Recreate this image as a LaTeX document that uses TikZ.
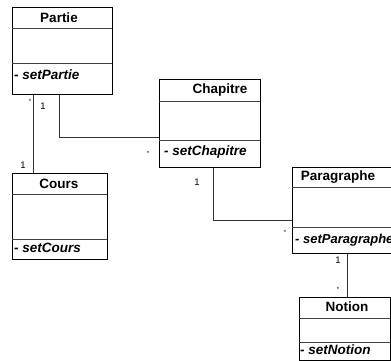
\documentclass[tikz,border=0pt]{standalone}
\usepackage{fontspec}
\setmainfont{Liberation Sans}
\usetikzlibrary{calc}
\begin{document}
\begin{tikzpicture}[x=1pt,y=-1pt,
  cls/.style={draw=black,line width=0.8pt,fill=white,anchor=north west,inner sep=0pt},
  sep/.style={draw=black!75,line width=1pt},
  conn/.style={draw=black!80,line width=0.8pt},
  ttl/.style={font=\fontsize{13.5}{15}\selectfont\bfseries,inner sep=0pt},
  meth/.style={font=\fontsize{13.5}{15}\selectfont\bfseries\itshape,inner sep=0pt,anchor=west},
  mult/.style={font=\fontsize{9.5}{10}\selectfont,inner sep=0pt},
  star/.style={font=\fontsize{6}{7}\selectfont,inner sep=0pt}]
\useasboundingbox[fill=white] (0,0) rectangle (391,361);
\clip (0,0) rectangle (391,361);
% Partie
\node[cls,minimum width=100pt,minimum height=87pt] (partie) at (12,7) {};
\draw[sep] ($(partie.north west)+(0,22)$) -- ++(100,0);
\draw[sep] ($(partie.north west)+(0,57)$) -- ++(100,0);
\node[ttl] (partieT) at (59,18) {Partie};
\node[meth] (partieM) at (14,75) {- setPartie};
% Chapitre
\node[cls,minimum width=101pt,minimum height=88pt] (chapitre) at (159,79) {};
\draw[sep] ($(chapitre.north west)+(0,22)$) -- ++(101,0);
\draw[sep] ($(chapitre.north west)+(0,61)$) -- ++(101,0);
\node[ttl] (chapitreT) at (220,90) {Chapitre};
\node[meth] (chapitreM) at (164,152) {- setChapitre};
% Cours
\node[cls,minimum width=95pt,minimum height=86pt] (cours) at (12,173) {};
\draw[sep] ($(cours.north west)+(0,21)$) -- ++(95,0);
\draw[sep] ($(cours.north west)+(0,66)$) -- ++(95,0);
\node[ttl] (coursT) at (59,184) {Cours};
\node[meth] (coursM) at (14,248) {- setCours};
% Paragraphe
\node[cls,minimum width=110pt,minimum height=86pt] (paragraphe) at (292,167) {};
\draw[sep] ($(paragraphe.north west)+(0,20)$) -- ++(110,0);
\draw[sep] ($(paragraphe.north west)+(0,60)$) -- ++(110,0);
\node[ttl] (paragrapheT) at (338,177) {Paragraphe};
\node[meth,font=\fontsize{13}{15}\selectfont\bfseries\itshape] (paragrapheM) at (295,240) {- setParagraphe};
% Notion
\node[cls,minimum width=91pt,minimum height=63pt] (notion) at (299,297) {};
\draw[sep] ($(notion.north west)+(0,21)$) -- ++(91,0);
\draw[sep] ($(notion.north west)+(0,45)$) -- ++(91,0);
\node[ttl] (notionT) at (347,307) {Notion};
\node[meth] (notionM) at (300,350) {- setNotion};
% connectors
\draw[conn] (partie.south -| 33,0) -- (cours.north -| 33,0);
\draw[conn] (partie.south -| 59,0) |- (chapitre.west |- 0,137);
\draw[conn] (chapitre.south -| 213,0) |- (paragraphe.west |- 0,220);
\draw[conn] (paragraphe.south -| 347,0) -- (notion.north -| 347,0);
% multiplicities
\node[star] (m1) at (30,101) {*};
\node[mult] (m2) at (43,106) {1};
\node[mult] (m3) at (23,165) {1};
\node[star] (m4) at (148,153) {*};
\node[mult] (m5) at (197,182) {1};
\node[star] (m6) at (285,232) {*};
\node[mult] (m7) at (338,260) {1};
\node[star] (m8) at (338,289) {*};
\end{tikzpicture}
\end{document}
